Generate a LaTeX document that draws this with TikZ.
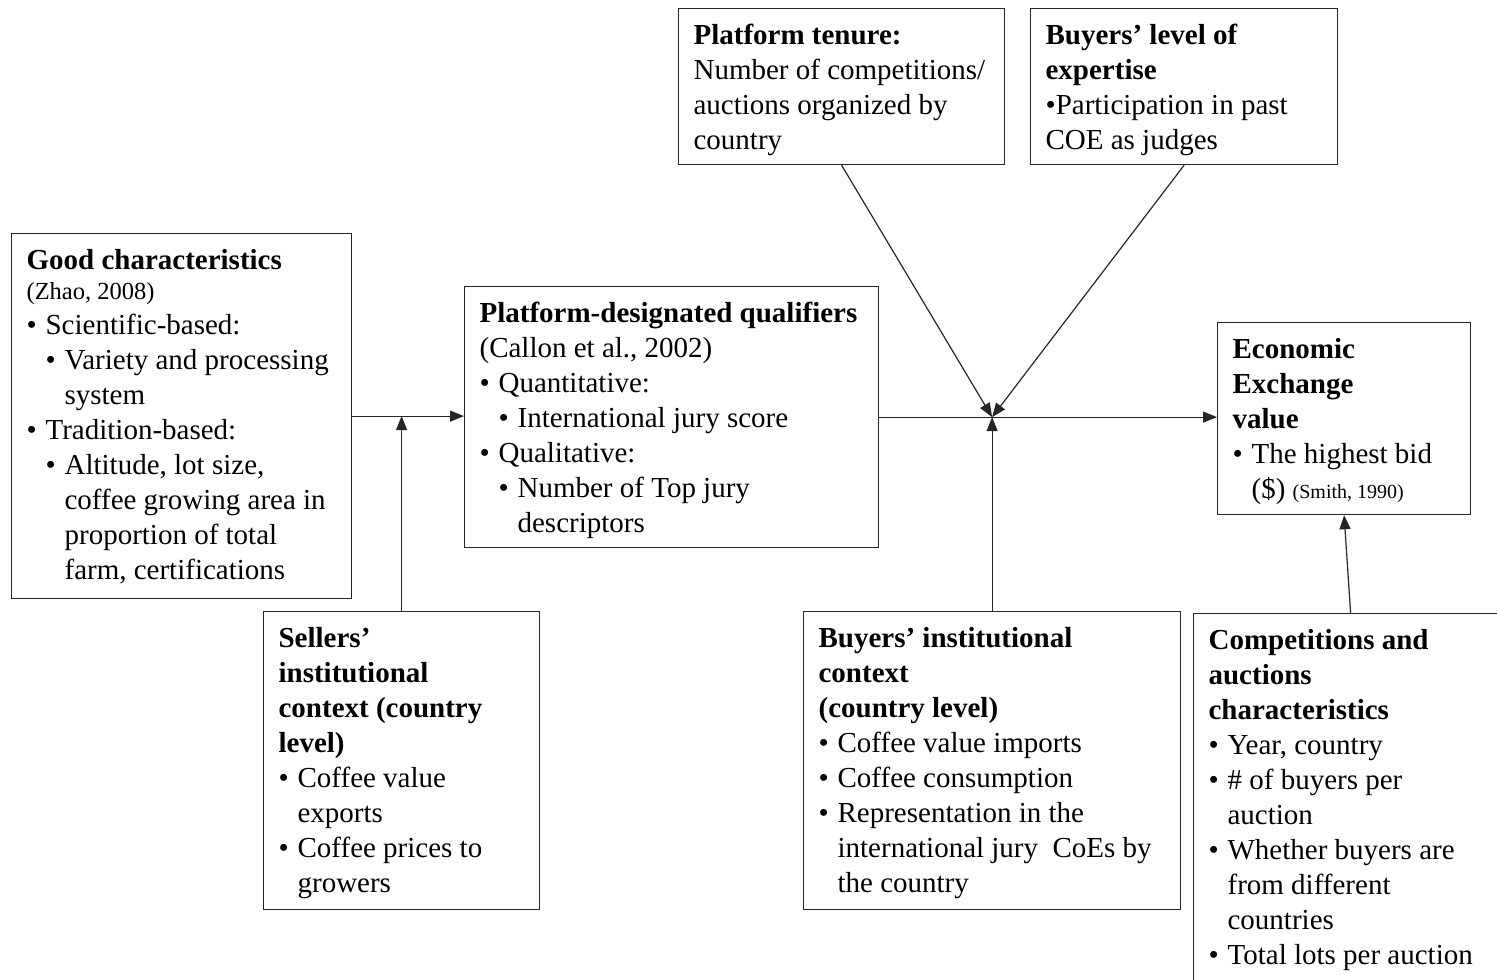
\documentclass[tikz,border=0pt]{standalone}
\usepackage{fontspec}
\setmainfont{Liberation Serif}
\usetikzlibrary{arrows.meta}
\tikzset{
  box/.style={draw=black!85, line width=1.2pt, inner sep=0pt, anchor=north west,
    font=\fontsize{29}{35}\selectfont},
  arr/.style={line width=1.2pt, draw=black!85, -{Triangle[length=14pt,width=11pt]}},
  link/.style={line width=1.2pt, draw=black!85}
}
\newcommand{\boxbody}[3]{%
  \begin{minipage}[t][#2][t]{#1}\vspace{0pt}%
  \raggedright\leftskip=15pt\parskip=0pt #3\end{minipage}}
\newcommand{\boxhead}[1]{\rule{0pt}{36pt}\textbf{#1}}
\newcommand{\itemA}[1]{\par\hangindent=19pt\hangafter=1\makebox[19pt][l]{\textbullet}#1}
\newcommand{\itemB}[1]{\par\hangindent=38pt\hangafter=1\hspace*{19pt}\makebox[19pt][l]{\textbullet}#1}
\begin{document}
\begin{tikzpicture}[x=1pt, y=-1pt]
  \useasboundingbox (0,0) rectangle (1497,980);
  \node[box] (good) at (11,233) {\boxbody{340pt}{365pt}{%
    \boxhead{Good characteristics}\\[-5pt]
    {\fontsize{24.5}{35}\selectfont (Zhao, 2008)}
    \itemA{Scientific-based:}
    \itemB{Variety and processing\newline system}
    \itemA{Tradition-based:}
    \itemB{Altitude, lot size,\newline coffee growing area in\newline proportion of total\newline farm, certifications}}};
  \node[box] (pdq) at (464,286) {\boxbody{414pt}{261pt}{%
    \boxhead{Platform-designated qualifiers}\\
    (Callon et al., 2002)
    \itemA{Quantitative:}
    \itemB{International jury score}
    \itemA{Qualitative:}
    \itemB{Number of Top jury\newline descriptors}}};
  \node[box] (tenure) at (678,8) {\boxbody{326pt}{156pt}{%
    \boxhead{Platform tenure:}\\
    Number of competitions/\\auctions organized by\\country}};
  \node[box] (level) at (1030,8) {\boxbody{307pt}{156pt}{%
    \boxhead{Buyers' level of\\expertise}\\
    \textbullet Participation in past\\COE as judges}};
  \node[box] (econ) at (1217,322) {\boxbody{253pt}{192pt}{%
    \boxhead{Economic\\Exchange\\value}
    \itemA{The highest bid\newline (\$) {\fontsize{20}{35}\selectfont (Smith, 1990)}}}};
  \node[box] (sellers) at (263,611) {\boxbody{276pt}{298pt}{%
    \boxhead{Sellers'\\institutional\\context (country\\level)}
    \itemA{Coffee value\newline exports}
    \itemA{Coffee prices to\newline growers}}};
  \node[box] (buyers) at (803,611) {\boxbody{377pt}{298pt}{%
    \boxhead{Buyers' institutional\\context\\(country level)}
    \itemA{Coffee value imports}
    \itemA{Coffee consumption}
    \itemA{Representation in the\newline international jury~ CoEs by\newline the country}}};
  \node[box] (comp) at (1193,613) {\boxbody{314pt}{400pt}{%
    \boxhead{Competitions and\\auctions\\characteristics}
    \itemA{Year, country}
    \itemA{\# of buyers per\newline auction}
    \itemA{Whether buyers are\newline from different\newline countries}
    \itemA{Total lots per auction}}};
  \coordinate (sj) at (sellers.north |- good.east);
  \coordinate (hub) at (buyers.north |- pdq.east);
  \draw[arr] (good.east) -- (good.east -| pdq.west);
  \draw[arr] (sellers.north) -- (sj);
  \draw[link] (pdq.east) -- (hub);
  \draw[arr] (tenure.south) -- (hub);
  \draw[arr] (level.south) -- (hub);
  \draw[arr] (buyers.north) -- (hub);
  \draw[arr] (hub) -- (hub -| econ.west);
  \draw[arr] (comp.north) -- (econ.south);
\end{tikzpicture}
\end{document}
